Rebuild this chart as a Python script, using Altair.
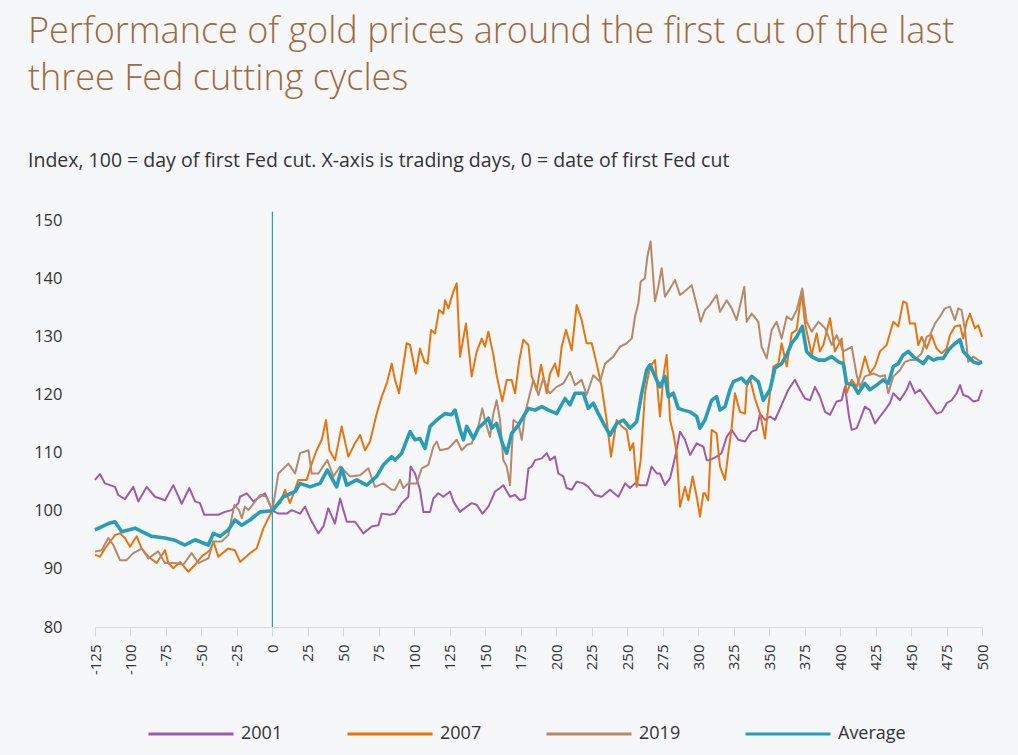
import altair as alt
import pandas as pd

# ---- data ----
days_2001 = [-125, -121.5, -118, -110.9, -108.6, -103.9, -98, -94.5, -88.6, -82.7, -75.7, -69.8, -63.9, -58.5, -54.5, -51, -48, -38.1, -33.4, -28.7, -24,
             -22.8, -18.1, -13.4, -5.2, 0, 4.2, 10.1, 13.6, 19.5, 23, 26.5, 32.4, 35.9, 39.4, 44.1, 47.7, 52.4, 58.2, 64.1, 70, 74.7, 77, 82.9,
             86.4, 91.1, 95.8, 97.4, 100.5, 104, 106.4, 111.1, 113.4, 116.9, 120.5, 125.2, 127.5, 132.2, 136.9, 140.4, 144, 148, 152.2, 156.9, 160.4, 162.7, 167.4, 171, 174.5, 178, 180.4, 182.7, 185.1, 189.8, 193.3,
             195.6, 199.1, 201.5, 205, 207.3, 210.9, 214.4, 219.1, 222.6, 227.3, 232, 237.9, 243.8, 248.5, 252, 255.5, 259, 263.7, 267.2, 270.8, 273.1, 276.6, 280.2, 284.4, 287.2, 290.7, 294.3, 299, 303.7,
             306, 308.3, 313, 316.5, 320.1, 323.6, 328.3, 333, 337.7, 341.2, 343.6, 347.1, 350.6, 354.1, 358.8, 363.5, 368.2, 371.7, 375.3, 378.8, 382.3, 385.8, 389.4, 392.9, 397.6, 401.1, 403.5, 406.3, 408.2, 411.7,
             414, 417.5, 421, 424.6, 428.1, 431.6, 435.1, 437.5, 442.2, 446.9, 449.2, 452.8, 456.3, 459.8, 464.5, 468, 471.6, 475.1, 478.6, 482.1, 484.5, 486.8, 490.3, 493.9, 497.4, 500]
vals_2001 = [105.3, 106.3, 104.7, 104.1, 102.7, 102, 104.1, 101.6, 104.1, 102.4, 101.8, 104.4, 101.2, 103.9, 101.6, 101.3, 99.3, 99.3, 99.8, 100.1, 101.3,
             102.4, 103, 101.6, 103, 100, 99.5, 99.5, 100.1, 99.5, 100.7, 98.7, 96.1, 97.3, 100.4, 97.8, 102.1, 98.1, 98.1, 96.1, 97.3, 97.5, 99.5, 99.3,
             99.5, 101.3, 102.4, 107.6, 106.4, 103.6, 99.8, 99.8, 102.1, 103, 102.4, 103.3, 101.6, 99.8, 100.7, 101.3, 101, 99.5, 100.7, 103.3, 103.9, 104.4, 102.4, 102.7, 101.8, 102.1, 107.3, 107.6, 108.7, 109, 109.9,
             108.7, 109.3, 106.4, 105.9, 103.9, 103.6, 105, 104.7, 104.1, 102.7, 102.4, 103.6, 102.4, 104.7, 103.9, 104.7, 104.4, 104.4, 107.6, 106.4, 106.4, 104.4, 105.6, 109.9, 113.6, 112.2, 109.6, 111.6, 111,
             108.7, 108.7, 109.3, 109.9, 112.7, 113.9, 112.2, 111.9, 113.6, 113.9, 116.7, 115.6, 116.2, 115.6, 118.2, 120.8, 122.5, 120.8, 119.3, 119, 121.3, 119.6, 117, 116.5, 118.8, 119, 121.3, 116.2, 113.9, 114.2,
             115.6, 117.9, 117.3, 115, 116.2, 117.3, 118.5, 120.2, 119, 120.8, 122.2, 120.2, 120.8, 119.6, 117.9, 116.7, 117, 118.5, 119, 120.2, 121.6, 119.9, 119.6, 118.8, 119, 120.8]

days_2007 = [-125, -121.5, -118, -110.9, -107.4, -103.9, -100.3, -95.6, -92.1, -87.4, -81.6, -75.7, -73.3, -69.8, -65.1, -59.2, -54.5, -49.9, -44, -41.6, -38.1, -31.1, -26.4, -22.8,
             -15.8, -11.1, -6.3, -2.8, 0, 5.4, 8.9, 12.4, 18.3, 24.2, 27.7, 31.2, 34.8, 37.8, 40.2, 44.1, 48.8, 53.5, 58.2, 61.8, 65.3, 68.8, 73.5, 77, 80.6, 84.1,
             86.4, 89.2, 91.6, 94.6, 97, 101, 104, 107.1, 109.4, 111.8, 114.6, 117.4, 120.5, 121.6, 124, 127.5, 129.9, 132.2, 136.4, 140.4, 144, 147.5, 149.8, 152.2, 155.7, 158, 162, 165.1, 168.6, 171, 173.8, 176.8, 180.4, 182.7, 186.2, 189.3, 193.3,
             195.6, 199.1, 201.5, 203.8, 206.9, 210.9, 214.4, 217.9, 221.4, 225, 228.5, 232, 235.5, 238.6, 242.6, 246.1, 249.6, 252, 254.3, 256.7, 259.5, 262.5, 266.1, 269.6, 273.1, 275.5, 277.8, 280.2, 282.5, 284.9, 287.2, 290.7, 293.1, 296.1, 299, 301.3, 303.7,
             304.8, 307.1, 309.5, 313, 315.4, 318.9, 321.2, 323.6, 325.9, 329.5, 333, 334.2, 336.5, 340, 343.6, 345.9, 347.1, 349.4, 353, 356.5, 358.8, 362.4, 365.9, 369.4, 372.9, 375.3, 380, 383.5, 385.8, 388.2, 392.9, 396.4, 401.1, 404.6, 408.2, 411.7,
             414, 417.5, 421, 424.6, 428.1, 432.8, 437.5, 441, 444.5, 446.9, 449.2, 452.8, 455.1, 457.5, 461, 464.5, 468, 471.6, 475.1, 477.4, 480.9, 484.5, 486.8, 489.2, 491.5, 495, 497.4, 500]
vals_2007 = [92.4, 92.1, 93.5, 95.8, 96.1, 95.3, 93.8, 95.6, 93.5, 92.1, 91, 93.2, 91, 90.1, 91.2, 89.5, 90.7, 92.1, 93.2, 94.7, 92.1, 93.5, 93.2, 91.2,
             92.7, 93.5, 97, 98.7, 100, 101.3, 103.6, 101.3, 105.3, 105.3, 108.1, 110.4, 112.2, 115.6, 110.4, 108.7, 114.5, 109.3, 111.6, 113, 110.4, 111.9, 116.7, 119.6, 121.9, 125.3,
             122.5, 120.2, 124, 128.8, 128.5, 123.6, 127.9, 125.6, 125.3, 131.1, 130.5, 134.5, 133.9, 136.2, 134.8, 137.7, 139.1, 126.5, 132.2, 123.1, 127.4, 129.6, 128.2, 130.8, 126.8, 123.3, 118.8, 122.5, 122.5, 120.2, 125.6, 129.4, 128.5, 123.1, 120.8, 125.1, 120.2,
             123.6, 125.3, 123.1, 128.2, 131.1, 127.6, 135.4, 132.8, 128.8, 128.8, 125.3, 121.3, 115.6, 109.3, 115.6, 114.5, 113.9, 110.4, 111.6, 104.1, 108.7, 120.2, 124.8, 125.9, 116.2, 123.1, 126.8, 115.6, 113.3, 109.9, 100.7, 104.1, 101.8, 105.9, 102.4, 99, 103,
             103, 101.8, 113.9, 113.3, 107.6, 105.3, 109.9, 114.2, 120.2, 117, 116.7, 121.3, 122.8, 119.3, 116.7, 113.9, 112.4, 117.9, 124.8, 125.3, 128.8, 124.8, 130.5, 131.1, 137.7, 132.2, 126.8, 130.5, 127.4, 128.5, 133.1, 127.4, 129.6, 120.2, 122.5, 121.3,
             123.1, 126.5, 123.6, 124.8, 127.4, 128.5, 132.5, 131.7, 136, 135.7, 132.2, 132.2, 128.5, 129.9, 127.9, 130.2, 127.9, 127.1, 127.9, 130.2, 131.7, 131.9, 129.6, 132.5, 133.9, 131.4, 131.9, 129.9]

days_2019 = [-125, -120.3, -115.6, -112.1, -107.4, -102.7, -98, -92.1, -87.4, -80.4, -75.7, -68.6, -62.8, -56.9, -52.2, -45.1, -41.6, -35.8, -31.1, -26.8, -23.5, -21.6, -19.3,
             -16.9, -8.7, -4, 0, 4.2, 11.3, 16, 19.5, 25.4, 27.7, 32.4, 38.7, 43, 47.7, 54.7, 61.8, 67.6, 72.3, 78.2, 84.1,
             86.4, 89.9, 92.3, 95.8, 101.7, 105.2, 109.9, 113.4, 115.8, 118.1, 124, 129.9, 133.4, 136.9, 140.4, 145.1, 147.9, 149.8, 153.3, 155.7, 158, 160.4, 162.7, 165.1, 167.4, 169.8, 173.3, 175.7, 178, 181.5, 183.9, 187.4, 190.9, 194.5,
             195.6, 200.3, 205, 209.7, 213.2, 217.9, 221.4, 226.1, 230.8, 234.4, 240.2, 244.9, 249.6, 253.2, 255.5, 257.9, 259.5, 262.5, 264.2, 266.5, 269.6, 271.9, 274.3, 276.6, 280.2, 283.7, 287.2, 291.9, 295.4, 299, 301.8, 304.8,
             308.3, 313, 315.4, 320.1, 323.6, 327.1, 330.2, 332.5, 334.2, 337.7, 342.4, 344.7, 348.3, 351.8, 355.3, 358.8, 362.4, 365.9, 369.4, 373.4, 376.4, 380, 384.7, 389.4, 394.1, 397.6, 402.3, 408.2, 411.7,
             414, 417.5, 423.4, 428.1, 431.6, 434, 437.5, 439.8, 442.2, 445.7, 449.2, 452.8, 457.5, 461, 463.3, 466.9, 470.4, 473.9, 477.4, 480.9, 483.3, 485.6, 488, 490.3, 493.9, 497.4, 500]
vals_2019 = [93, 93.2, 95.3, 94.1, 91.5, 91.5, 92.7, 93.5, 91.8, 93, 91, 91, 90.7, 92.7, 91, 91.8, 94.7, 94.7, 95.8, 101, 100.1, 98.7, 100.7,
             100.1, 102.7, 102.4, 100, 106.4, 108.1, 106.4, 109.9, 110.4, 106.4, 106.4, 108.7, 105.9, 107.6, 105.9, 106.1, 107.3, 104.1, 104.7, 103.6,
             103.6, 105.3, 103.9, 104.7, 104.7, 107.3, 107.9, 111, 111.9, 110.4, 110.7, 112.2, 110.4, 111.3, 111.6, 114.5, 117.6, 115.6, 112.7, 116.7, 119, 115.6, 108.7, 107.6, 104.4, 115.6, 115, 112.2, 116.7, 120.2, 122.5, 119.9, 122.8, 120.5,
             120.2, 121.3, 121.9, 123.9, 121.6, 122.5, 119.9, 123.3, 122.2, 125.3, 126.5, 128.2, 128.8, 129.6, 133.4, 135.7, 139.4, 140, 143.7, 146.3, 136, 138.5, 141.7, 136.8, 138.2, 139.7, 137.1, 138, 138.8, 135.4, 132.5, 134.5,
             135.4, 137.1, 134.2, 136.2, 134.8, 132.8, 136, 138.5, 132.5, 133.9, 132.5, 128.2, 126.2, 131.1, 132.5, 129.6, 133.4, 132.8, 134.5, 138.2, 132.5, 130.8, 132.5, 131.4, 128.5, 130.2, 127.4, 128.2, 123.3,
             121.3, 123.1, 123.6, 123.1, 123.3, 120.2, 123.1, 123.6, 124.2, 125.6, 125.9, 125.9, 127.1, 129.9, 130.2, 132.2, 133.4, 134.8, 135.1, 132.8, 134.8, 134.5, 131.1, 125.6, 126.5, 125.9, 125.6]

days_avg = [-125, -115.6, -110.9, -106.2, -96.8, -85.1, -75.7, -68.6, -61.6, -54.5, -45.1, -41.6, -36.9, -31.1, -26.4, -21.6,
            -15.8, -8.7, 0, 7.7, 16, 19.5, 26.5, 33.6, 38.7, 45.3, 48.8, 52.4, 59.4, 66.5, 73.5, 78.2, 84.1,
            86.4, 91.1, 97, 100.5, 104, 107.5, 111.1, 115.8, 121.6, 126.3, 128.7, 132.2, 134.6, 136.9, 141.6, 145.1, 148.6, 152.2, 154.5, 158, 162, 165.1, 168.6, 173.3, 176.8, 180.4, 185.1, 189.8, 194.5,
            200.3, 206.2, 209.7, 213.2, 219.1, 222.6, 226.1, 229.7, 234.4, 237.9, 242.6, 247.3, 252, 256.7, 260.2, 263.7, 266.1, 269.6, 273.1, 276.6, 279, 282.5, 286, 289.6, 294.3, 299, 301.3, 304.8,
            309.5, 313, 315.4, 318.9, 322.4, 324.8, 330.6, 334.2, 337.7, 342.4, 345.9, 350.6, 354.1, 358.8, 362.4, 365.9, 369.4, 373.4, 376.4, 380, 384.7, 389.4, 394.1, 398.8, 402.3, 404.6, 409.3, 412.8,
            417.5, 421, 425.7, 430.4, 434, 437.5, 441, 444.5, 448.1, 451.6, 455.1, 458.6, 462.2, 465.7, 469.2, 472.7, 476.2, 479.8, 484.5, 486.8, 490.3, 493.9, 497.4, 500]
vals_avg = [96.7, 97.8, 98.1, 96.4, 97, 95.6, 95.3, 94.9, 94.1, 95, 94.1, 96.1, 95.6, 96.7, 98.4, 97.5,
            98.4, 99.8, 100, 102.4, 103.3, 104.7, 104.1, 104.7, 107, 104.1, 107.3, 104.4, 105.3, 104.4, 105.9, 107.9, 109.3,
            108.7, 109.9, 113.6, 112.2, 112.4, 110.7, 114.5, 115.6, 116.7, 116.5, 117.3, 113.9, 112.2, 114.5, 112.4, 114.2, 115, 115.9, 114.2, 115, 111.6, 109.9, 113.3, 114.7, 116.2, 117.6, 117.3, 117.9, 117.3,
            116.7, 119.3, 118.2, 120.2, 120.2, 117.6, 118.5, 116.7, 114.5, 113, 115, 115.6, 114.2, 115.3, 120.2, 124.2, 125.1, 123.1, 121.3, 123.1, 119.6, 120.2, 117.6, 117.3, 117, 116.2, 114.2, 115.6,
            119, 119.6, 117.3, 117.9, 120.8, 122.2, 122.8, 121.9, 123.1, 122.2, 119, 120.8, 124.5, 125.3, 126.8, 128.8, 129.9, 131.7, 127.4, 126.5, 125.9, 125.9, 126.5, 125.6, 125.3, 121.9, 121.6, 120.2,
            121.9, 120.8, 121.6, 122.5, 121.9, 124.8, 125.3, 126.8, 127.4, 126.5, 125.9, 125.3, 126.5, 125.9, 126.2, 126.2, 127.6, 128.5, 129.4, 127.4, 126.5, 125.6, 125.3, 125.6]

series_names = ["2001", "2007", "2019", "Average"]
series_colors = ["#a05aab", "#e8740f", "#b5896a", "#2a9db6"]
x_ticks = list(range(-125, 501, 25))
y_ticks = [80, 90, 100, 110, 120, 130, 140, 150]
cut_day = [0]

rows = []
for name, ds, vs in [("2001", days_2001, vals_2001), ("2007", days_2007, vals_2007),
                     ("2019", days_2019, vals_2019), ("Average", days_avg, vals_avg)]:
    for i, (d, v) in enumerate(zip(ds, vs)):
        rows.append({"series": name, "day": d, "value": v, "order": i})
df = pd.DataFrame(rows)
df_cut = pd.DataFrame({"day": cut_day, "top": [151.4], "bottom": [80]})

FONT = "Open Sans"

x_scale = alt.Scale(domain=[-125, 500], nice=False, zero=False)
y_scale = alt.Scale(domain=[80, 150], nice=False, zero=False)

lines = alt.Chart(df).mark_line(strokeJoin="round").encode(
    x=alt.X("day:Q", scale=x_scale,
            axis=alt.Axis(values=x_ticks, tickCount=40, title=None, grid=False, labelAngle=270,
                          labelAlign="right", labelBaseline="middle", labelFontSize=15,
                          labelColor="#333333", labelFont=FONT, tickSize=9, tickColor="#d9d9d9",
                          domainColor="#d9d9d9", labelPadding=8, labelFlush=False,
                          labelOverlap=False, labelExpr="toString(datum.value)")),
    y=alt.Y("value:Q", scale=y_scale,
            axis=alt.Axis(values=y_ticks, title=None, grid=False, domain=False, ticks=False,
                          labelFontSize=16.5, labelColor="#333333", labelFont=FONT,
                          labelPadding=33)),
    color=alt.Color("series:N", scale=alt.Scale(domain=series_names, range=series_colors),
                    legend=alt.Legend(title=None, orient="none", legendX=52, legendY=470,
                                      direction="horizontal", symbolType="stroke",
                                      symbolSize=7225, symbolStrokeWidth=3,
                                      labelFontSize=18, labelFont=FONT, labelColor="#333333",
                                      columnPadding=58, labelOffset=6)),
    strokeWidth=alt.condition("datum.series == 'Average'", alt.value(3.6), alt.value(2)),
    order="order:Q",
)

cut = alt.Chart(df_cut).mark_rule(color="#2a9db6", strokeWidth=1.2).encode(
    x=alt.X("day:Q", scale=x_scale),
    y=alt.Y("top:Q", scale=y_scale),
    y2="bottom:Q",
)

chart = alt.layer(cut, lines).properties(
    width=887, height=407,
    background="#f5f7f9",
    padding={"left": 95, "top": 220, "right": 36, "bottom": 128},
    autosize=alt.AutoSizeParams(type="none"),
    title=alt.TitleParams(
        text=["Performance of gold prices around the first cut of the last", "three Fed cutting cycles"],
        subtitle="Index, 100 = day of first Fed cut. X-axis is trading days, 0 = date of first Fed cut",
        anchor="start", frame="group", dx=-67, offset=40,
        font=FONT, fontSize=36, fontWeight=300, color="#9c6b3f", lineHeight=47,
        subtitleFont=FONT, subtitleFontSize=19.5, subtitleColor="#333333", subtitlePadding=54,
    ),
).configure_view(stroke=None)

chart.save("out.html", embed_options={"renderer": "svg", "actions": False})
